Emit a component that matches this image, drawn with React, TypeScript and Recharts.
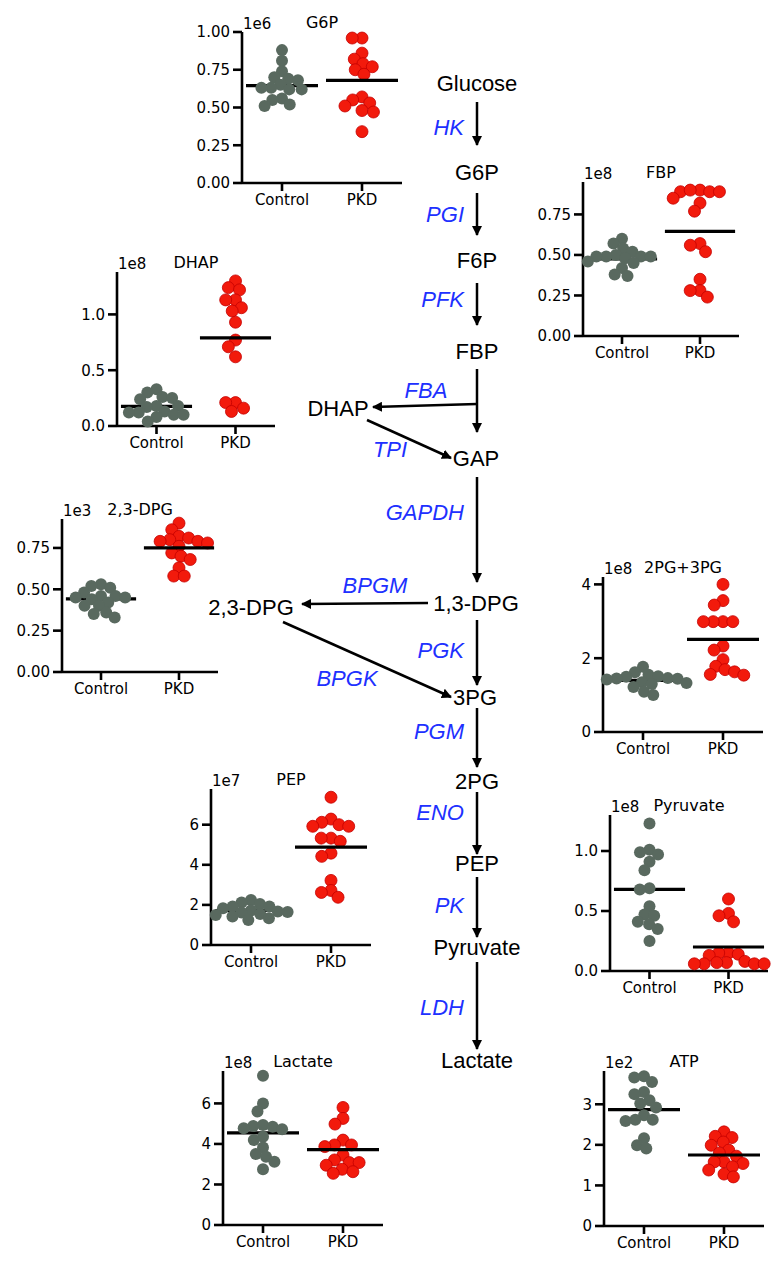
import React from "react";
import { ScatterChart, Scatter, XAxis, YAxis } from "recharts";

// groups shown on every panel
const groups = ["Control", "PKD"];

// values (each panel has its own exponent)
const g6pControl = [0.88, 0.81, 0.74, 0.7, 0.69, 0.68, 0.65, 0.63, 0.63, 0.62, 0.62, 0.56, 0.55, 0.52, 0.51];
const g6pPkd = [0.96, 0.96, 0.86, 0.82, 0.79, 0.77, 0.75, 0.72, 0.57, 0.55, 0.53, 0.51, 0.48, 0.47, 0.34];
const g6pMeans = [0.645, 0.68];

const fbpControl = [0.6, 0.57, 0.54, 0.52, 0.5, 0.49, 0.49, 0.49, 0.49, 0.48, 0.46, 0.45, 0.42, 0.38, 0.37];
const fbpPkd = [0.9, 0.89, 0.89, 0.89, 0.9, 0.85, 0.82, 0.77, 0.57, 0.56, 0.52, 0.35, 0.28, 0.28, 0.24];
const fbpMeans = [0.475, 0.645];

const dhapControl = [0.33, 0.3, 0.26, 0.25, 0.24, 0.18, 0.18, 0.17, 0.13, 0.12, 0.12, 0.1, 0.1, 0.08, 0.04];
const dhapPkd = [1.3, 1.24, 1.22, 1.13, 1.13, 1.06, 1.03, 0.93, 0.77, 0.71, 0.62, 0.21, 0.21, 0.16, 0.13];
const dhapMeans = [0.176, 0.79];

const dpg23Control = [0.53, 0.52, 0.51, 0.48, 0.46, 0.46, 0.45, 0.45, 0.44, 0.42, 0.4, 0.4, 0.36, 0.35, 0.33];
const dpg23Pkd = [0.9, 0.86, 0.82, 0.81, 0.8, 0.79, 0.79, 0.78, 0.76, 0.72, 0.7, 0.68, 0.63, 0.58, 0.58];
const dpg23Means = [0.442, 0.75];

const pgControl = [1.77, 1.62, 1.55, 1.51, 1.5, 1.46, 1.45, 1.44, 1.42, 1.35, 1.33, 1.3, 1.22, 1.09, 1.0];
const pgPkd = [4.0, 3.56, 3.44, 2.99, 2.99, 2.99, 2.99, 2.33, 2.22, 1.96, 1.78, 1.69, 1.63, 1.56, 1.54];
const pgMeans = [1.4, 2.51];

const pepControl = [2.25, 2.12, 2.05, 1.92, 1.92, 1.83, 1.72, 1.67, 1.65, 1.62, 1.55, 1.5, 1.42, 1.33, 1.25];
const pepPkd = [7.37, 6.28, 6.12, 6.0, 5.92, 5.92, 5.33, 5.33, 5.17, 4.58, 4.42, 3.22, 2.72, 2.62, 2.38];
const pepMeans = [1.72, 4.88];

const pyrControl = [1.23, 1.01, 0.99, 0.97, 0.91, 0.84, 0.69, 0.68, 0.54, 0.47, 0.46, 0.41, 0.39, 0.35, 0.25];
const pyrPkd = [0.6, 0.48, 0.46, 0.41, 0.15, 0.15, 0.14, 0.13, 0.08, 0.07, 0.07, 0.06, 0.06, 0.06, 0.06];
const pyrMeans = [0.68, 0.2];

const lacControl = [7.37, 6.0, 5.6, 4.93, 4.88, 4.85, 4.77, 4.72, 4.36, 4.19, 3.83, 3.5, 3.37, 3.12, 2.75];
const lacPkd = [5.8, 5.26, 4.98, 4.19, 3.95, 3.95, 3.87, 3.45, 3.21, 3.08, 3.08, 2.95, 2.75, 2.63, 2.55];
const lacMeans = [4.55, 3.72];

const atpControl = [3.69, 3.66, 3.55, 3.3, 3.25, 3.1, 3.02, 2.92, 2.73, 2.62, 2.62, 2.59, 2.16, 1.99, 1.91];
const atpPkd = [2.32, 2.21, 2.18, 2.07, 1.99, 1.87, 1.8, 1.72, 1.58, 1.58, 1.54, 1.46, 1.38, 1.28, 1.21];
const atpMeans = [2.87, 1.75];

// pathway labels
const metabolites = ["Glucose", "G6P", "F6P", "FBP", "DHAP", "GAP", "1,3-DPG", "2,3-DPG", "3PG", "2PG", "PEP", "Pyruvate", "Lactate"];
const enzymes = ["HK", "PGI", "PFK", "FBA", "TPI", "GAPDH", "BPGM", "PGK", "BPGK", "PGM", "ENO", "PK", "LDH"];

// layout of the pathway (same order as the label arrays)
const metabolitePos = [
  [477, 83], [477, 172], [477, 260], [477, 351], [338, 408], [476, 458], [476, 603],
  [251, 607], [475, 697], [477, 781], [477, 863], [477, 947], [477, 1060],
];
const enzymePos: [number, number, "end" | "middle"][] = [
  [464, 127, "end"], [464, 214, "end"], [464, 299, "end"], [426, 390, "middle"], [390, 449, "middle"],
  [464, 512, "end"], [375, 585, "middle"], [464, 650, "end"], [347, 678, "middle"], [464, 731, "end"],
  [464, 812, "end"], [464, 905, "end"], [464, 1007, "end"],
];
const arrows = [
  [477, 102, 477, 145], [477, 193, 477, 235], [477, 283, 477, 325], [477, 369, 477, 432],
  [477, 404, 373, 407], [367, 420, 451, 458], [477, 477, 477, 582], [428, 603, 302, 604],
  [477, 620, 477, 685], [283, 622, 451, 697], [477, 708, 477, 767], [477, 792, 477, 854],
  [477, 877, 477, 937], [477, 962, 477, 1049],
];

const panels = [
  { title: "G6P", exp: "1e6", axisX: 242, top: 32, bottom: 183, right: 402, yMax: 1.0, ticks: [0, 0.25, 0.5, 0.75, 1], dec: 2, control: g6pControl, pkd: g6pPkd, means: g6pMeans },
  { title: "FBP", exp: "1e8", axisX: 583, top: 182, bottom: 336, right: 739, yMax: 0.95, ticks: [0, 0.25, 0.5, 0.75], dec: 2, control: fbpControl, pkd: fbpPkd, means: fbpMeans },
  { title: "DHAP", exp: "1e8", axisX: 117, top: 272, bottom: 426, right: 275, yMax: 1.38, ticks: [0, 0.5, 1.0], dec: 1, control: dhapControl, pkd: dhapPkd, means: dhapMeans },
  { title: "2,3-DPG", exp: "1e3", axisX: 62, top: 519, bottom: 672, right: 218, yMax: 0.925, ticks: [0, 0.25, 0.5, 0.75], dec: 2, control: dpg23Control, pkd: dpg23Pkd, means: dpg23Means },
  { title: "2PG+3PG", exp: "1e8", axisX: 603, top: 577, bottom: 732, right: 763, yMax: 4.2, ticks: [0, 2, 4], dec: 0, control: pgControl, pkd: pgPkd, means: pgMeans },
  { title: "PEP", exp: "1e7", axisX: 211, top: 789, bottom: 945, right: 371, yMax: 7.78, ticks: [0, 2, 4, 6], dec: 0, control: pepControl, pkd: pepPkd, means: pepMeans },
  { title: "Pyruvate", exp: "1e8", axisX: 610, top: 815, bottom: 971, right: 768, yMax: 1.3, ticks: [0, 0.5, 1.0], dec: 1, control: pyrControl, pkd: pyrPkd, means: pyrMeans },
  { title: "Lactate", exp: "1e8", axisX: 223, top: 1071, bottom: 1225, right: 383, yMax: 7.6, ticks: [0, 2, 4, 6], dec: 0, control: lacControl, pkd: lacPkd, means: lacMeans },
  { title: "ATP", exp: "1e2", axisX: 604, top: 1071, bottom: 1226, right: 764, yMax: 3.82, ticks: [0, 1, 2, 3], dec: 0, control: atpControl, pkd: atpPkd, means: atpMeans },
];

const YW = 50;
const MT = 30;
const MR = 4;
const XH = 34;
const R = 6;
const MIN_D = 9.8;
const GRAY = "#59695f";
const RED = "#f21a0c";
const BLUE = "#2030ff";
const PANEL_FONT = "'DejaVu Sans', Verdana, sans-serif";
const PATH_FONT = "'Liberation Sans', Arial, sans-serif";

// simple beeswarm: x offsets (px) so dots don't pile up
function swarm(values: number[], pxPerY: number): number[] {
  const order = values.map((_, i) => i).sort((a, b) => values[b] - values[a]);
  const placed: { x: number; y: number }[] = [];
  const out = new Array(values.length).fill(0);
  for (const i of order) {
    const y = values[i] * pxPerY;
    const cands = [0];
    for (const p of placed) {
      const dy = Math.abs(p.y - y);
      if (dy < MIN_D) {
        const dx = Math.sqrt(MIN_D * MIN_D - dy * dy);
        cands.push(p.x - dx, p.x + dx);
      }
    }
    cands.sort((a, b) => Math.abs(a) - Math.abs(b) || a - b);
    let chosen = 0;
    for (const c of cands) {
      if (placed.every((p) => (p.x - c) ** 2 + (p.y - y) ** 2 >= MIN_D * MIN_D - 0.01)) {
        chosen = c;
        break;
      }
    }
    placed.push({ x: chosen, y });
    out[i] = chosen;
  }
  return out;
}

const axisStyle = { stroke: "#000", strokeWidth: 2.6 };

function Panel({ cfg }: { cfg: (typeof panels)[number] }) {
  const plotW = cfg.right - cfg.axisX;
  const plotH = cfg.bottom - cfg.top;
  const W = YW + plotW + MR;
  const H = MT + plotH + XH;
  const pxU = plotW / 2;
  const pyU = plotH / cfg.yMax;
  const cx = swarm(cfg.control, pyU);
  const px = swarm(cfg.pkd, pyU);
  const ctrlData = cfg.control.map((v, i) => ({ x: cx[i] / pxU, y: v }));
  const pkdData = cfg.pkd.map((v, i) => ({ x: 1 + px[i] / pxU, y: v }));
  const halfW = 0.45 * pxU;

  const meanShape = (p: any) => (
    <line x1={p.cx - halfW} x2={p.cx + halfW} y1={p.cy} y2={p.cy} stroke="#000" strokeWidth={3.2} />
  );
  const grayDot = (p: any) => <circle cx={p.cx} cy={p.cy} r={R} fill={GRAY} />;
  const redDot = (p: any) => <circle cx={p.cx} cy={p.cy} r={R} fill={RED} stroke="#c40000" strokeWidth={0.8} />;

  return (
    <div style={{ position: "absolute", left: cfg.axisX - YW, top: cfg.top - MT, width: W, height: H }}>
      <ScatterChart width={W} height={H} margin={{ top: MT, right: MR, bottom: 0, left: 0 }}>
        <XAxis
          type="number"
          dataKey="x"
          domain={[-0.5, 1.5]}
          ticks={[0, 1]}
          tickFormatter={(v: number) => groups[v]}
          height={XH}
          axisLine={axisStyle}
          tickLine={axisStyle}
          tickSize={8}
          tickMargin={3}
          tick={{ fill: "#000", fontSize: 15, fontFamily: PANEL_FONT }}
        />
        <YAxis
          type="number"
          dataKey="y"
          domain={[0, cfg.yMax]}
          ticks={cfg.ticks}
          tickFormatter={(v: number) => v.toFixed(cfg.dec)}
          width={YW}
          axisLine={axisStyle}
          tickLine={axisStyle}
          tickSize={9}
          tickMargin={3}
          tick={{ fill: "#000", fontSize: 15, fontFamily: PANEL_FONT }}
        />
        <Scatter data={[{ x: 0, y: cfg.means[0] }]} shape={meanShape} isAnimationActive={false} />
        <Scatter data={ctrlData} shape={grayDot} isAnimationActive={false} />
        <Scatter data={pkdData} shape={redDot} isAnimationActive={false} />
        <Scatter data={[{ x: 1, y: cfg.means[1] }]} shape={meanShape} isAnimationActive={false} />
      </ScatterChart>
    </div>
  );
}

export default function App() {
  return (
    <div style={{ position: "absolute", left: 0, top: 0, width: 772, height: 1264, background: "#fff" }}>
      {panels.map((p) => (
        <Panel key={p.title} cfg={p} />
      ))}
      <svg width={772} height={1264} style={{ position: "absolute", left: 0, top: 0, pointerEvents: "none" }}>
        <defs>
          <marker id="head" viewBox="0 0 10 10" refX="9" refY="5" markerWidth="4" markerHeight="4" orient="auto">
            <path d="M0,0 L10,5 L0,10 z" fill="#000" />
          </marker>
        </defs>
        {panels.map((p) => (
          <g key={p.title} fontFamily={PANEL_FONT} fill="#000">
            <text x={(p.axisX + p.right) / 2} y={p.top - 10} fontSize={16} textAnchor="middle" dominantBaseline="central">
              {p.title}
            </text>
            <text x={p.axisX + 1} y={p.top - 8} fontSize={15} dominantBaseline="central">
              {p.exp}
            </text>
          </g>
        ))}
        {arrows.map((a, i) => (
          <line key={i} x1={a[0]} y1={a[1]} x2={a[2]} y2={a[3]} stroke="#000" strokeWidth={2.5} markerEnd="url(#head)" />
        ))}
        {metabolites.map((m, i) => (
          <text key={m} x={metabolitePos[i][0]} y={metabolitePos[i][1]} fontSize={22} fontFamily={PATH_FONT}
            textAnchor="middle" dominantBaseline="central" fill="#000">
            {m}
          </text>
        ))}
        {enzymes.map((e, i) => (
          <text key={e} x={enzymePos[i][0]} y={enzymePos[i][1]} fontSize={22} fontFamily={PATH_FONT}
            fontStyle="italic" textAnchor={enzymePos[i][2]} dominantBaseline="central" fill={BLUE}>
            {e}
          </text>
        ))}
      </svg>
    </div>
  );
}
